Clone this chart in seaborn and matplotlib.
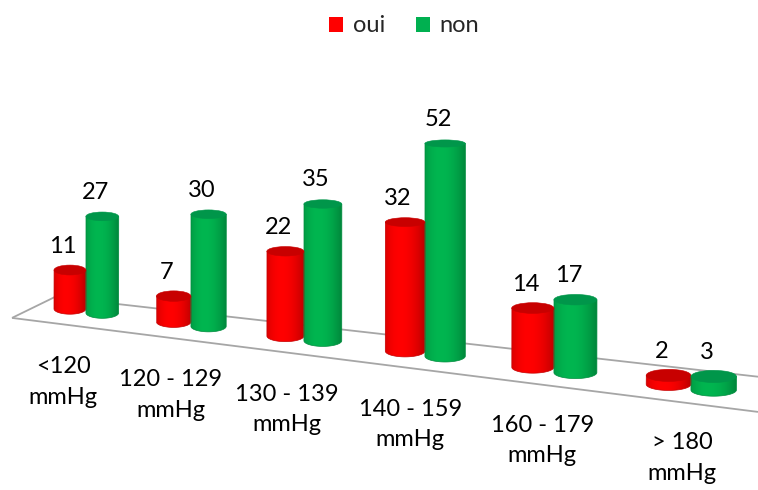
import numpy as np
import pandas as pd
import matplotlib
matplotlib.use("Agg")
import matplotlib.pyplot as plt
import seaborn as sns
from matplotlib.transforms import Affine2D, IdentityTransform
from matplotlib.patches import Patch, Ellipse, Polygon
from matplotlib.colors import to_rgb

# ---- data -------------------------------------------------------------
categories = ["<120\nmmHg", "120 - 129\nmmHg", "130 - 139\nmmHg",
              "140 - 159\nmmHg", "160 - 179\nmmHg", "> 180\nmmHg"]
series = ["oui", "non"]
oui = [11, 7, 22, 32, 14, 2]
non = [27, 30, 35, 52, 17, 3]

body_colors = {"oui": "#FF0000", "non": "#00B650"}
top_colors = {"oui": "#C80000", "non": "#00964A"}
legend_colors = {"oui": "#FF0000", "non": "#00B050"}

df = pd.DataFrame({
    "tension": categories * 2,
    "reponse": ["oui"] * len(oui) + ["non"] * len(non),
    "effectif": oui + non,
})

# ---- figure -----------------------------------------------------------
sns.set_theme(style="white")
plt.rcParams["font.family"] = ["Lato", "DejaVu Sans"]
FS = 17

W, H, DPI = 758, 490, 100
fig = plt.figure(figsize=(W / DPI, H / DPI), dpi=DPI)
ax = fig.add_axes([0, 0, 1, 1])

sns.barplot(data=df, x="tension", y="effectif", hue="reponse",
            hue_order=series, palette=body_colors, saturation=1,
            width=0.64, errorbar=None, legend=False, ax=ax)

# perspective: categories widen towards the viewer (right side)
A, B = 101.0, 4.0
def fwd(i):
    i = np.asarray(i, dtype=float)
    return A * i + B * i * i
def inv(p):
    p = np.asarray(p, dtype=float)
    return (-A + np.sqrt(np.maximum(A * A + 4 * B * p, 0))) / (2 * B)

ORIGIN = 86.0          # pixel column of the first category
PX_PER_UNIT = 4.0      # vertical pixels per count (reference depth)
BASE0 = 190.0          # height (from bottom) of the floor at the left edge
SLOPE = 0.126          # floor slope (pixels down per pixel right)

ax.set_xscale("function", functions=(fwd, inv))
ax.set_xlim(float(inv(-ORIGIN)), float(inv(W - ORIGIN)))
ax.set_ylim(-BASE0 / PX_PER_UNIT, (H - BASE0) / PX_PER_UNIT)
ax.set_axis_off()

shear = Affine2D().skew(0, np.arctan(-SLOPE))
T = ax.transData + shear


def depth_factor(x_display):
    """Bars nearer the viewer (right) look taller per unit."""
    return (3.55 + 0.0015 * (x_display - ORIGIN)) / PX_PER_UNIT


def shade(rgb, t):
    """Cylinder lighting: brightest slightly left of centre."""
    t = np.asarray(t)
    peak = -0.25
    d_r = (t - peak) / (1 - peak)
    d_l = (peak - t) / (1 + peak)
    m = np.where(t > peak, 1 - 0.27 * d_r ** 2, 1 - 0.14 * d_l ** 2)
    return np.clip(np.array(rgb)[None, :] * m[:, None], 0, 1)


def ellipse_b(y_display):
    y_top = H - y_display
    return float(np.clip(3.6 + 0.011 * (y_top - 147), 3.2, 7.0))


# ---- floor ------------------------------------------------------------
x_left_front = float(inv(12 - ORIGIN))
x_left_back = float(inv(55 - ORIGIN))
x_right = float(inv(W - ORIGIN))
floor_kw = dict(color="#A6A6A6", lw=1.3, transform=T, zorder=1,
                solid_capstyle="butt")
ax.plot([x_left_front, x_right], [-4.1, -4.1], **floor_kw)
ax.plot([x_left_back, x_right], [2.5, 4.7], **floor_kw)
ax.plot([x_left_front, x_left_back], [-4.1, 2.5], **floor_kw)

# ---- cylinders ----------------------------------------------------------
bars = list(ax.patches)
for p in bars:
    fc = p.get_facecolor()[:3]
    name = "oui" if np.allclose(fc, to_rgb(body_colors["oui"]), atol=0.02) else "non"
    x0, w, h = p.get_x(), p.get_width(), p.get_height()
    p.set_visible(False)

    xl = T.transform((x0, 0))[0]
    xr = T.transform((x0 + w, 0))[0]
    cx, yb = T.transform((x0 + w / 2, 0))
    _, yt_flat = T.transform((x0 + w / 2, h))
    k = depth_factor(cx)
    yt = yb + (yt_flat - yb) * k
    a = (xr - xl) / 2
    bb = ellipse_b(yb)
    bt = ellipse_b(yt)

    rgb = to_rgb(body_colors[name])
    # body outline: sides + lower half of the base ellipse
    th = np.linspace(np.pi, 2 * np.pi, 60)
    arc = np.column_stack([cx + a * np.cos(th), yb + bb * np.sin(th)])
    verts = np.vstack([[[xl, yt]], arc, [[xr, yt]]])
    body = Polygon(verts, closed=True, transform=IdentityTransform(),
                   facecolor="none", edgecolor="none")
    ax.add_patch(body)

    tt = np.linspace(-1, 1, 256)
    grad = shade(rgb, tt)[None, :, :]
    im = ax.imshow(grad, extent=(xl, xr, yb - bb - 1, yt),
                   transform=IdentityTransform(), aspect="auto",
                   interpolation="bilinear", zorder=3)
    im.set_clip_path(body)

    # soft rim to smooth the clipped edge
    rim = Polygon(verts, closed=True, transform=IdentityTransform(),
                  facecolor="none", edgecolor=tuple(shade(rgb, [0.9])[0]),
                  lw=0.5, zorder=3.5)
    ax.add_patch(rim)

    ax.add_patch(Ellipse((cx, yt), 2 * a, 2 * bt, facecolor=top_colors[name],
                         edgecolor=top_colors[name], lw=0.4,
                         transform=IdentityTransform(), zorder=4))

    ax.annotate(f"{int(round(h))}", xy=(cx, yt), xycoords=IdentityTransform(),
                xytext=(-7, 24), textcoords="offset pixels",
                ha="center", va="center", fontsize=FS, color="black",
                zorder=5)

# ---- category labels ----------------------------------------------------
for i, lab in enumerate(categories):
    ax.annotate(lab, xy=(i, 0), xycoords=T,
                xytext=(-23 + 2.8 * i, -71), textcoords="offset pixels",
                ha="center", va="center", multialignment="center",
                fontsize=FS, linespacing=1.55, color="black")

# ---- legend -------------------------------------------------------------
handles = [Patch(facecolor=legend_colors[s], edgecolor="none", label=s)
           for s in series]
fig.legend(handles=handles, loc="center", bbox_to_anchor=(404 / W, 1 - 26 / H),
           ncol=2, frameon=False, fontsize=FS, handlelength=0.6,
           handleheight=0.6, handletextpad=0.4, columnspacing=1.3)

ax.set_xlim(float(inv(-ORIGIN)), float(inv(W - ORIGIN)))
ax.set_ylim(-BASE0 / PX_PER_UNIT, (H - BASE0) / PX_PER_UNIT)

fig.savefig("out.png", dpi=DPI, facecolor="white")
